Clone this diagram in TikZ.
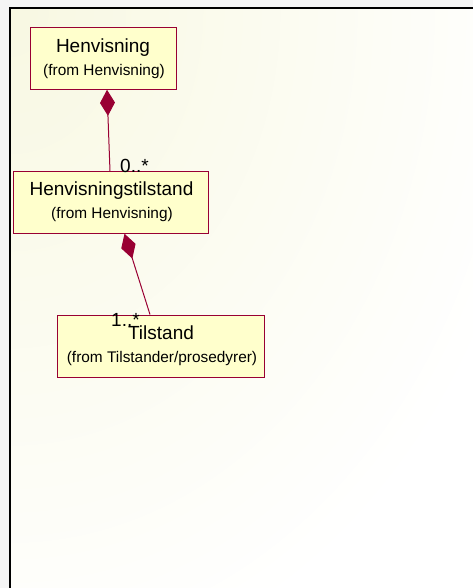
\documentclass[tikz,border=0pt]{standalone}
\usepackage{fontspec}
\setmainfont{Liberation Sans}
\usetikzlibrary{arrows.meta,calc}

\definecolor{umlred}{HTML}{990033}
\definecolor{umlfill}{HTML}{FFFFCC}
\definecolor{bgtint}{HTML}{F8F8E2}
\definecolor{margin}{HTML}{F5F5F5}

\tikzset{
  classbox/.style={draw=umlred, fill=umlfill, line width=1pt, rectangle,
    inner sep=0pt},
  classname/.style={anchor=base, inner sep=0pt,
    font=\fontsize{19}{22}\selectfont},
  classorigin/.style={anchor=base, inner sep=0pt,
    font=\fontsize{15.4}{18}\selectfont},
  multiplicity/.style={anchor=base west, inner sep=0pt,
    font=\fontsize{19}{22}\selectfont},
  composition/.style={draw=umlred, line width=1pt,
    {Diamond[length=26pt, width=15pt, fill=umlred]}-},
}

\begin{document}
\begin{tikzpicture}[x=1pt, y=-1pt]
  \useasboundingbox (0,0) rectangle (473,588);

  % margin and diagram canvas with its faint tint
  \fill[margin] (0,0) rectangle (473,588);
  \begin{scope}
    \clip (10,8) rectangle (473,588);
    \fill[white] (10,8) rectangle (473,588);
    \shade[inner color=bgtint, outer color=white] (10,8) ellipse (540 and 680);
  \end{scope}
  \draw[black, line width=1.5pt] (473,8) -- (10,8) -- (10,588);

  % classes
  \node[classbox, minimum width=146pt, minimum height=62pt] (henv) at (103,58.3) {};
  \node[classname] (henv-name) at (103,52.7) {Henvisning};
  \node[classorigin] (henv-from) at (104,76) {(from Henvisning)};

  \node[classbox, minimum width=195pt, minimum height=61.5pt] (htil) at (110.5,202.5) {};
  \node[classname] (htil-name) at (111.5,195) {Henvisningstilstand};
  \node[classorigin] (htil-from) at (112,218.3) {(from Henvisning)};

  \node[classbox, minimum width=207pt, minimum height=62pt] (til) at (160.5,346) {};
  \node[classname] (til-name) at (161,339.3) {Tilstand};
  \node[classorigin] (til-from) at (162,362.7) {(from Tilstander/prosedyrer)};

  % composition associations
  \coordinate (c1a) at ([xshift=4pt]henv.south);
  \coordinate (c1b) at ([xshift=-0.5pt]htil.north);
  \draw[composition] (c1a) -- (c1b);

  \coordinate (c2a) at ([xshift=14pt]htil.south);
  \coordinate (c2b) at ([xshift=-10.5pt]til.north);
  \draw[composition] (c2a) -- (c2b);

  % multiplicities
  \node[multiplicity] (m1) at (120,172.3) {0..*};
  \node[multiplicity] (m2) at (111,326.7) {1..*};
\end{tikzpicture}
\end{document}
